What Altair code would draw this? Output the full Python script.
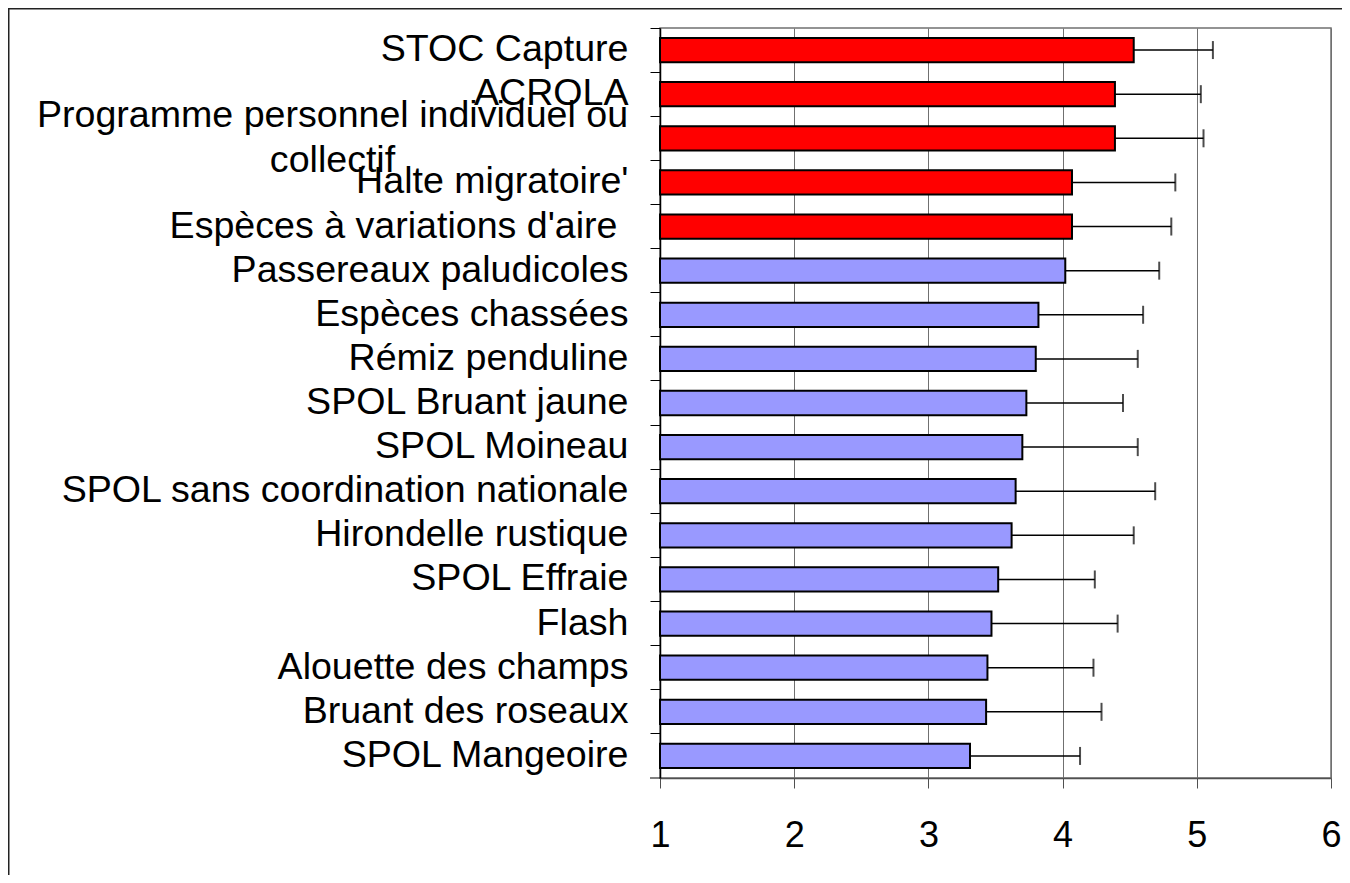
import altair as alt
import pandas as pd

categories = [
    "STOC Capture",
    "ACROLA",
    "Programme personnel individuel ou\ncollectif",
    "Halte migratoire'",
    "Espèces à variations d'aire ",
    "Passereaux paludicoles",
    "Espèces chassées",
    "Rémiz penduline",
    "SPOL Bruant jaune",
    "SPOL Moineau",
    "SPOL sans coordination nationale",
    "Hirondelle rustique",
    "SPOL Effraie",
    "Flash",
    "Alouette des champs",
    "Bruant des roseaux",
    "SPOL Mangeoire",
]
means = [4.53, 4.39, 4.39, 4.07, 4.07, 4.02, 3.82, 3.80, 3.73, 3.70,
         3.65, 3.62, 3.52, 3.47, 3.44, 3.43, 3.31]
upper = [5.12, 5.03, 5.05, 4.84, 4.81, 4.72, 4.60, 4.56, 4.45, 4.56,
         4.69, 4.53, 4.24, 4.41, 4.23, 4.29, 4.13]
groups = ["red", "red", "red", "red", "red",
          "blue", "blue", "blue", "blue", "blue", "blue",
          "blue", "blue", "blue", "blue", "blue", "blue"]
x_ticks = [1, 2, 3, 4, 5, 6]

df = pd.DataFrame({"category": categories, "mean": means,
                   "upper": upper, "group": groups})

FONT = "Liberation Sans"
MULTI = "indexof(datum.value, '\\n') >= 0"

y_enc = alt.Y(
    "category:N",
    sort=categories,
    scale=alt.Scale(paddingInner=0, paddingOuter=0),
    axis=alt.Axis(
        title=None,
        labelFont=FONT,
        labelFontSize=37.6,
        labelColor="black",
        labelLimit=1000,
        labelAlign={"condition": {"test": MULTI, "value": "center"},
                    "value": "right"},
        labelPadding={"condition": [
                          {"test": MULTI, "value": 318},
                          {"test": "indexof(datum.value, 'variations') >= 0",
                           "value": 33}],
                      "value": 22},
        labelOffset={"condition": {"test": MULTI, "value": -22},
                     "value": 0},
        labelOverlap=False,
        labelExpr="split(datum.label, '\\n')",
        labelLineHeight=45,
        tickSize=10,
        tickColor="black",
        tickWidth=1,
        domainColor="black",
        domainWidth=1.5,
        bandPosition=0,
        grid=False,
    ),
)

x_scale = alt.Scale(domain=[1, 6], nice=False, zero=False)
x_axis = alt.Axis(
    title=None,
    values=x_ticks,
    format="d",
    grid=True,
    gridColor="#707070",
    gridWidth=1,
    labelFont=FONT,
    labelFontSize=36,
    labelColor="black",
    labelPadding=30,
    labelFlush=False,
    tickSize=10,
    tickColor="#505050",
    domainColor="#505050",
    domainWidth=1.5,
)

base = alt.Chart(df)

bars = base.mark_bar(height={"band": 0.55}, stroke="black", strokeWidth=2).encode(
    x=alt.X("mean:Q", scale=x_scale, axis=x_axis),
    x2=alt.X2(datum=1),
    y=y_enc,
    color=alt.Color("group:N", scale=alt.Scale(domain=["red", "blue"],
                                               range=["#FF0000", "#9999FF"]),
                    legend=None),
)

err = base.mark_rule(color="black", strokeWidth=1.5).encode(
    x=alt.X("mean:Q"),
    x2="upper:Q",
    y=alt.Y("category:N", sort=categories),
)

caps = base.mark_tick(color="black", thickness=2, size=18).encode(
    x=alt.X("upper:Q"),
    y=alt.Y("category:N", sort=categories),
)

deco_df = pd.DataFrame({"f": [0]})
frame_left = alt.Chart(deco_df).mark_rule(color="#222222", strokeWidth=3).encode(
    x=alt.value(-652), y=alt.value(-30), y2=alt.value(900)
)
frame_top = alt.Chart(deco_df).mark_rule(color="#222222", strokeWidth=3).encode(
    x=alt.value(-660), x2=alt.value(682), y=alt.value(-20)
)
bottom_tick = alt.Chart(deco_df).mark_rule(color="black", strokeWidth=1).encode(
    x=alt.value(-10), x2=alt.value(0), y=alt.value(750)
)

chart = alt.layer(bars, err, caps, frame_left, frame_top, bottom_tick).properties(
    width=671,
    height=750,
    padding={"left": 652, "top": 20, "right": 11, "bottom": 97},
    autosize=alt.AutoSizeParams(type="none"),
    background="white",
).configure_view(stroke="#707070", strokeWidth=1.5)

chart.save("out.html", embed_options={"renderer": "svg", "actions": False})
